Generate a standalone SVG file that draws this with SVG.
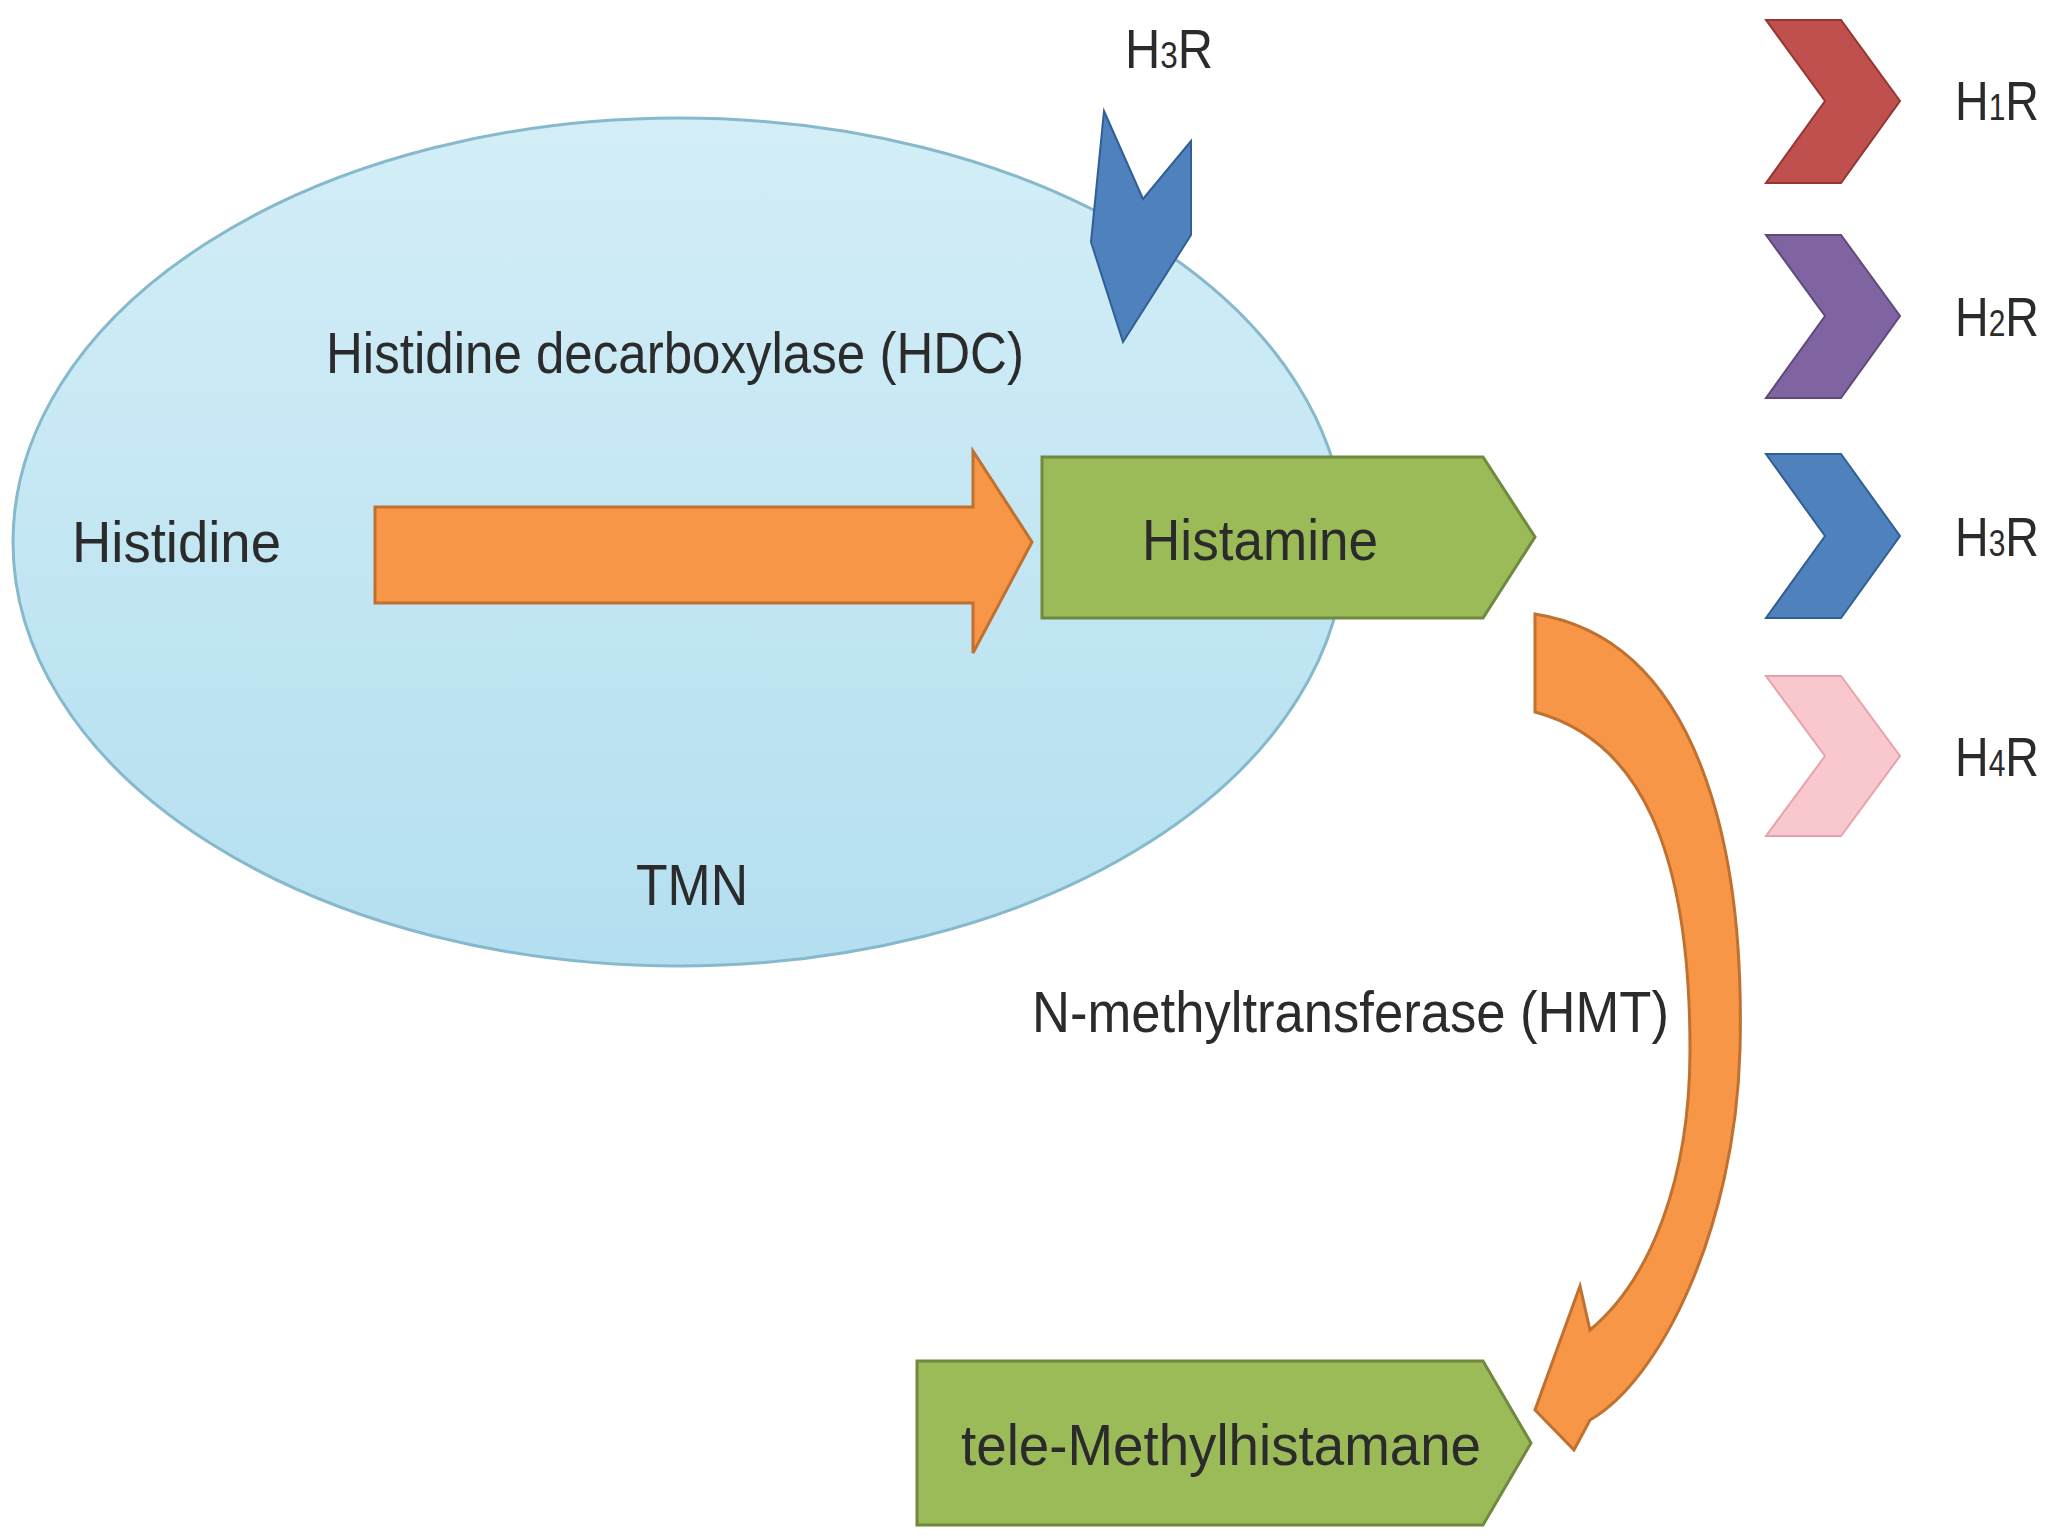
<svg xmlns="http://www.w3.org/2000/svg" width="2048" height="1536" viewBox="0 0 2048 1536">
<style>
text{font-family:"Liberation Sans",Arial,sans-serif;fill:#2b2b2b}
.lbl{font-size:58px}
.leg{font-size:56px}
.sub{font-size:36px}
.green{fill:#9bbb59;stroke:#71893f;stroke-width:3}
.orange{fill:#f79646;stroke:#c0712f;stroke-width:3}
</style>
<defs>
<linearGradient id="eg" x1="0" y1="0" x2="0" y2="1"><stop offset="0" stop-color="#d3eef7"/><stop offset="1" stop-color="#b4dff0"/></linearGradient>
</defs>
<rect width="2048" height="1536" fill="#fff"/>
<g id="tmn">
<ellipse cx="679" cy="542" rx="666" ry="424" fill="url(#eg)" stroke="#86b9cb" stroke-width="3"/>
<text class="lbl" x="692" y="905" text-anchor="middle" textLength="112" lengthAdjust="spacingAndGlyphs">TMN</text>
</g>
<g id="histidine"><text class="lbl" x="72" y="562" textLength="209" lengthAdjust="spacingAndGlyphs">Histidine</text></g>
<g id="hdc"><text class="lbl" x="326" y="373" textLength="698" lengthAdjust="spacingAndGlyphs">Histidine decarboxylase (HDC)</text></g>
<g id="h3r-top">
<polygon points="1104,111 1143,199 1191,141 1191,235 1123,342 1091,242" fill="#4f81bd" stroke="#2f5f96" stroke-width="2"/>
<text class="leg" x="1125" y="68" textLength="88" lengthAdjust="spacingAndGlyphs">H<tspan class="sub">3</tspan>R</text>
</g>
<g id="histamine">
<polygon class="green" points="1042,457 1483,457 1535,537 1483,618 1042,618"/>
<text class="lbl" x="1260" y="560" text-anchor="middle" textLength="236" lengthAdjust="spacingAndGlyphs">Histamine</text>
</g>
<g id="telemethyl">
<polygon class="green" points="917,1361 1483,1361 1531,1443 1483,1525 917,1525"/>
<text class="lbl" x="1221" y="1465" text-anchor="middle" textLength="520" lengthAdjust="spacingAndGlyphs">tele-Methylhistamane</text>
</g>
<g id="hmt"><text class="lbl" x="1032" y="1032" textLength="637" lengthAdjust="spacingAndGlyphs">N-methyltransferase (HMT)</text></g>
<g id="connectors">
<polygon class="orange" points="375,507 973,507 973,451 1032,542 973,653 973,603 375,603"/>
<path class="orange" d="M1535,614 C1700,640 1745,850 1740,1050 C1735,1230 1660,1380 1590,1420 L1574,1450 L1535,1410 L1580,1286 L1590,1330 C1650,1280 1690,1180 1690,1050 C1690,850 1640,740 1535,712 Z"/>
</g>
<g id="legend">
<polygon points="1766,20 1841,20 1900,101 1841,183 1766,183 1825,101" fill="#c0504d" stroke="#943634" stroke-width="2"/>
<text class="leg" x="1955" y="120" textLength="84" lengthAdjust="spacingAndGlyphs">H<tspan class="sub">1</tspan>R</text>
<polygon points="1766,235 1841,235 1900,316 1841,398 1766,398 1825,316" fill="#8064a2" stroke="#5f4a7a" stroke-width="2"/>
<text class="leg" x="1955" y="336" textLength="84" lengthAdjust="spacingAndGlyphs">H<tspan class="sub">2</tspan>R</text>
<polygon points="1766,454 1841,454 1900,536 1841,618 1766,618 1825,536" fill="#4f81bd" stroke="#2f5f96" stroke-width="2"/>
<text class="leg" x="1955" y="556" textLength="84" lengthAdjust="spacingAndGlyphs">H<tspan class="sub">3</tspan>R</text>
<polygon points="1766,676 1841,676 1900,756 1841,836 1766,836 1825,756" fill="#f9c8ce" stroke="#e7a3ab" stroke-width="2"/>
<text class="leg" x="1955" y="776" textLength="84" lengthAdjust="spacingAndGlyphs">H<tspan class="sub">4</tspan>R</text>
</g>
</svg>
